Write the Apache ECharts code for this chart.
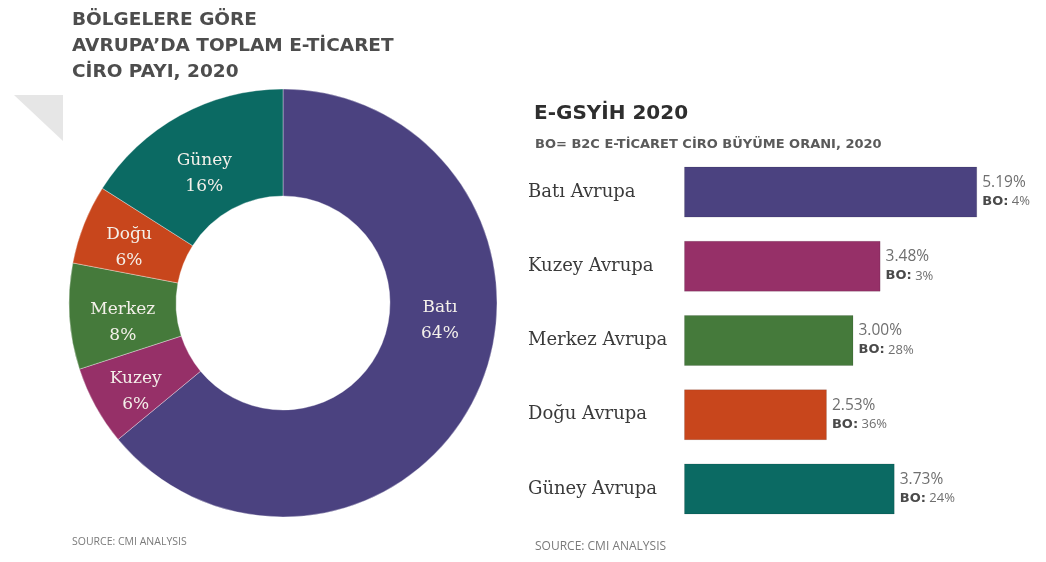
<!DOCTYPE html>
<html>
<head>
<meta charset="utf-8">
<script src="https://cdn.jsdelivr.net/npm/echarts@6/dist/echarts.min.js"></script>
<style>
  html, body { margin: 0; padding: 0; background: #ffffff; }
  #chart { width: 1046px; height: 562px; }
</style>
</head>
<body>
<div id="chart"></div>
<script>
// Share of total European e-commerce turnover by region, 2020
const shareRegions = ['Batı', 'Kuzey', 'Merkez', 'Doğu', 'Güney'];
const shareValues = [64, 6, 8, 6, 16];
const shareColors = ['#4b4280', '#963068', '#457a3b', '#c8461c', '#0b6a63'];
// hand-tuned nudges for the slice labels (dx, dy in px)
const shareLabelNudge = [[9, -52], [-4, 10], [3, 9], [-2, 5], [0, 14]];

// E-GDP 2020 by region, with B2C e-commerce turnover growth (BO)
const gdpRegions = ['Batı Avrupa', 'Kuzey Avrupa', 'Merkez Avrupa', 'Doğu Avrupa', 'Güney Avrupa'];
const gdpValues = [5.19, 3.48, 3.00, 2.53, 3.73];
const growthValues = [4, 3, 28, 36, 24];
const gdpColors = ['#4b4280', '#963068', '#457a3b', '#c8461c', '#0b6a63'];

const titleFont = '"DejaVu Sans", Lato, sans-serif';
const serifFont = '"DejaVu Serif", "Liberation Serif", serif';
const smallFont = '"Open Sans", sans-serif';

const chart = echarts.init(document.getElementById('chart'));

chart.setOption({
  backgroundColor: '#ffffff',
  animation: false,
  title: [
    {
      text: 'BÖLGELERE GÖRE\nAVRUPA’DA TOPLAM E-TİCARET\nCİRO PAYI, 2020',
      left: 67, top: 2,
      textStyle: { fontFamily: titleFont, fontWeight: 'bold', fontSize: 18.5, lineHeight: 26, color: '#4d4d4d' }
    },
    {
      text: 'E-GSYİH 2020',
      left: 529, top: 99,
      textStyle: { fontFamily: titleFont, fontWeight: 'bold', fontSize: 20, color: '#2e2e2e' }
    },
    {
      text: 'BO= B2C E-TİCARET CİRO BÜYÜME ORANI, 2020',
      left: 530, top: 133,
      textStyle: { fontFamily: titleFont, fontWeight: 'bold', fontSize: 13, color: '#5a5a5a' }
    },
    {
      text: 'SOURCE: CMI ANALYSIS',
      left: 67, top: 532,
      textStyle: { fontFamily: smallFont, fontWeight: 'normal', fontSize: 10.5, color: '#7a7a7a' }
    },
    {
      text: 'SOURCE: CMI ANALYSIS',
      left: 530, top: 536,
      textStyle: { fontFamily: smallFont, fontWeight: 'normal', fontSize: 12, color: '#7a7a7a' }
    }
  ],
  graphic: [
    {
      type: 'polygon',
      shape: { points: [[14, 95], [63, 95], [63, 141]] },
      style: { fill: '#e6e6e6' },
      z: -1
    }
  ],
  grid: { left: 684, top: 155, width: 339, height: 371, containLabel: false },
  xAxis: {
    type: 'value', min: 0, max: 6,
    show: false
  },
  yAxis: {
    type: 'category',
    data: gdpRegions,
    inverse: true,
    axisLine: { show: false },
    axisTick: { show: false },
    splitLine: { show: false },
    axisLabel: {
      align: 'left',
      margin: 156,
      fontFamily: serifFont,
      fontSize: 18,
      color: '#3a3a3a'
    }
  },
  series: [
    {
      type: 'pie',
      center: [283, 303],
      radius: [107, 214],
      startAngle: 90,
      clockwise: true,
      itemStyle: { borderColor: 'rgba(255,255,255,0.35)', borderWidth: 1 },
      label: {
        show: true,
        position: 'inside',
        formatter: p => p.name + '\n' + p.value + '%',
        fontFamily: serifFont,
        fontSize: 17,
        lineHeight: 26,
        color: '#f4f0ea',
        align: 'center'
      },
      labelLayout: p => ({ dx: shareLabelNudge[p.dataIndex][0], dy: shareLabelNudge[p.dataIndex][1] }),
      labelLine: { show: false },
      emphasis: { disabled: true },
      data: shareRegions.map((n, i) => ({
        name: n, value: shareValues[i], itemStyle: { color: shareColors[i] }
      }))
    },
    {
      type: 'bar',
      barWidth: 51,
      data: gdpValues.map((v, i) => ({
        value: v,
        itemStyle: { color: gdpColors[i], borderColor: 'rgba(0,0,0,0.12)', borderWidth: 1 }
      })),
      label: {
        show: true,
        position: 'right',
        distance: 5,
        align: 'left',
        formatter: p => '{v|' + p.value.toFixed(2) + '%}\n{b|BO:}{g| ' + growthValues[p.dataIndex] + '%}',
        rich: {
          v: { fontFamily: smallFont, fontSize: 15.5, color: '#6f6f6f', lineHeight: 19 },
          b: { fontFamily: titleFont, fontWeight: 'bold', fontSize: 13, color: '#4a4a4a', lineHeight: 19 },
          g: { fontFamily: smallFont, fontSize: 13, color: '#6f6f6f', lineHeight: 19 }
        }
      },
      emphasis: { disabled: true }
    }
  ]
});
</script>
</body>
</html>
